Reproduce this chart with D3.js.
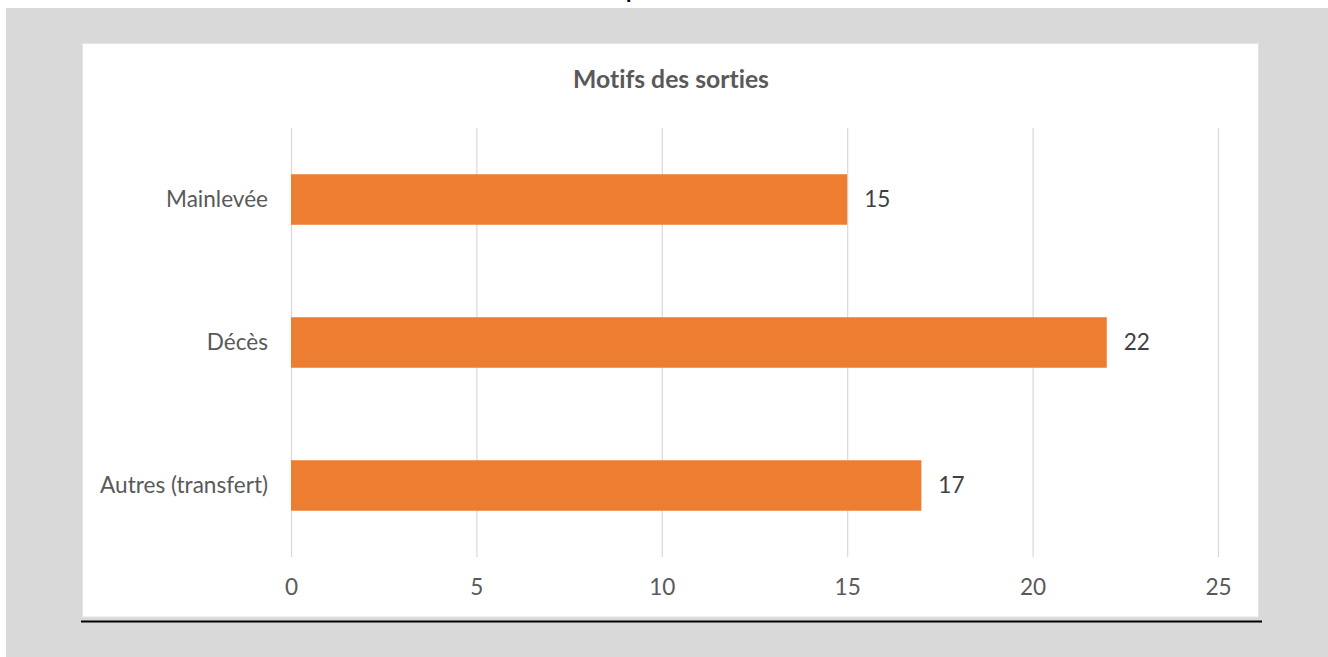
<!DOCTYPE html>
<html><head><meta charset="utf-8">
<script src="https://cdn.jsdelivr.net/npm/d3@7"></script>
<style>html,body{margin:0;padding:0;background:#fff;overflow:hidden} text{font-variant-ligatures:none;font-feature-settings:"liga" 0,"clig" 0}</style>
</head><body>
<script>
const categories = ["Mainlevée", "Décès", "Autres (transfert)"];
const values = [15, 22, 17];
const tickValues = [0, 5, 10, 15, 20, 25];
const chartTitle = "Motifs des sorties";

const W = 1328, H = 657;
const FONT = "Lato, 'Open Sans', sans-serif";
const svg = d3.select("body").append("svg").attr("width", W).attr("height", H);

function fit(text, weight, target) {
  const t = svg.append("text").attr("font-family", FONT).attr("font-weight", weight)
    .attr("font-size", 100).text(text);
  const w = t.node().getComputedTextLength();
  t.remove();
  return 100 * target / w;
}
const labelSize = fit("Autres (transfert)", "normal", 168);
const titleSize = fit(chartTitle, "bold", 196);

// cut-off glyph from the page above
svg.append("text").attr("x", 626).attr("y", -2).attr("font-family", FONT)
  .attr("font-weight", "bold").attr("font-size", 22).attr("fill", "#000").text("p");

// gray page area
svg.append("rect").attr("x", 6).attr("y", 8).attr("width", W - 6).attr("height", H - 8).attr("fill", "#d9d9d9");
// white chart panel
svg.append("rect").attr("x", 82.5).attr("y", 43.5).attr("width", 1176).attr("height", 573.5)
  .attr("fill", "#fff").attr("stroke", "#e4e4e4").attr("stroke-width", 1);
// black rule under panel
svg.append("line").attr("x1", 81).attr("x2", 1262).attr("y1", 621.5).attr("y2", 621.5)
  .attr("stroke", "#000").attr("stroke-width", 2.2);

const x = d3.scaleLinear().domain([0, 25]).range([291, 1218]);
const y = d3.scaleBand().domain(categories).range([128, 557]).paddingInner(0.647).paddingOuter(0.3235);

// gridlines
const grid = svg.append("g").attr("transform", "translate(0,557)")
  .call(d3.axisBottom(x).tickValues(tickValues).tickSize(-(557 - 128)).tickFormat(""));
grid.select(".domain").remove();
grid.selectAll(".tick line").attr("stroke", "#d9d9d9").attr("stroke-width", 1.2);

// x tick labels
const xa = svg.append("g").attr("transform", "translate(0,595)")
  .call(d3.axisBottom(x).tickValues(tickValues).tickSize(0).tickPadding(0).tickFormat(d3.format("d")));
xa.select(".domain").remove();
xa.selectAll("text").attr("font-family", FONT).attr("font-size", labelSize).attr("fill", "#595959")
  .attr("dy", 0);

// bars
svg.append("g").selectAll("rect").data(categories).join("rect")
  .attr("x", x(0)).attr("y", d => y(d)).attr("height", y.bandwidth())
  .attr("width", (d, i) => x(values[i]) - x(0)).attr("fill", "#ed7d31");

// y category labels
const ya = svg.append("g").attr("transform", "translate(268,0)")
  .call(d3.axisLeft(y).tickSize(0).tickPadding(0));
ya.select(".domain").remove();
ya.selectAll("text").attr("font-family", FONT).attr("font-size", labelSize).attr("fill", "#595959")
  .attr("dy", "0.35em");

// data labels
svg.append("g").selectAll("text").data(categories).join("text")
  .attr("x", (d, i) => x(values[i]) + 17).attr("y", d => y(d) + y.bandwidth() / 2)
  .attr("dy", "0.35em").attr("font-family", FONT).attr("font-size", labelSize).attr("fill", "#404040")
  .text((d, i) => values[i]);

// title
svg.append("text").attr("x", 671).attr("y", 88).attr("text-anchor", "middle")
  .attr("font-family", FONT).attr("font-weight", "bold").attr("font-size", titleSize)
  .attr("fill", "#595959").text(chartTitle);
</script>
</body></html>
